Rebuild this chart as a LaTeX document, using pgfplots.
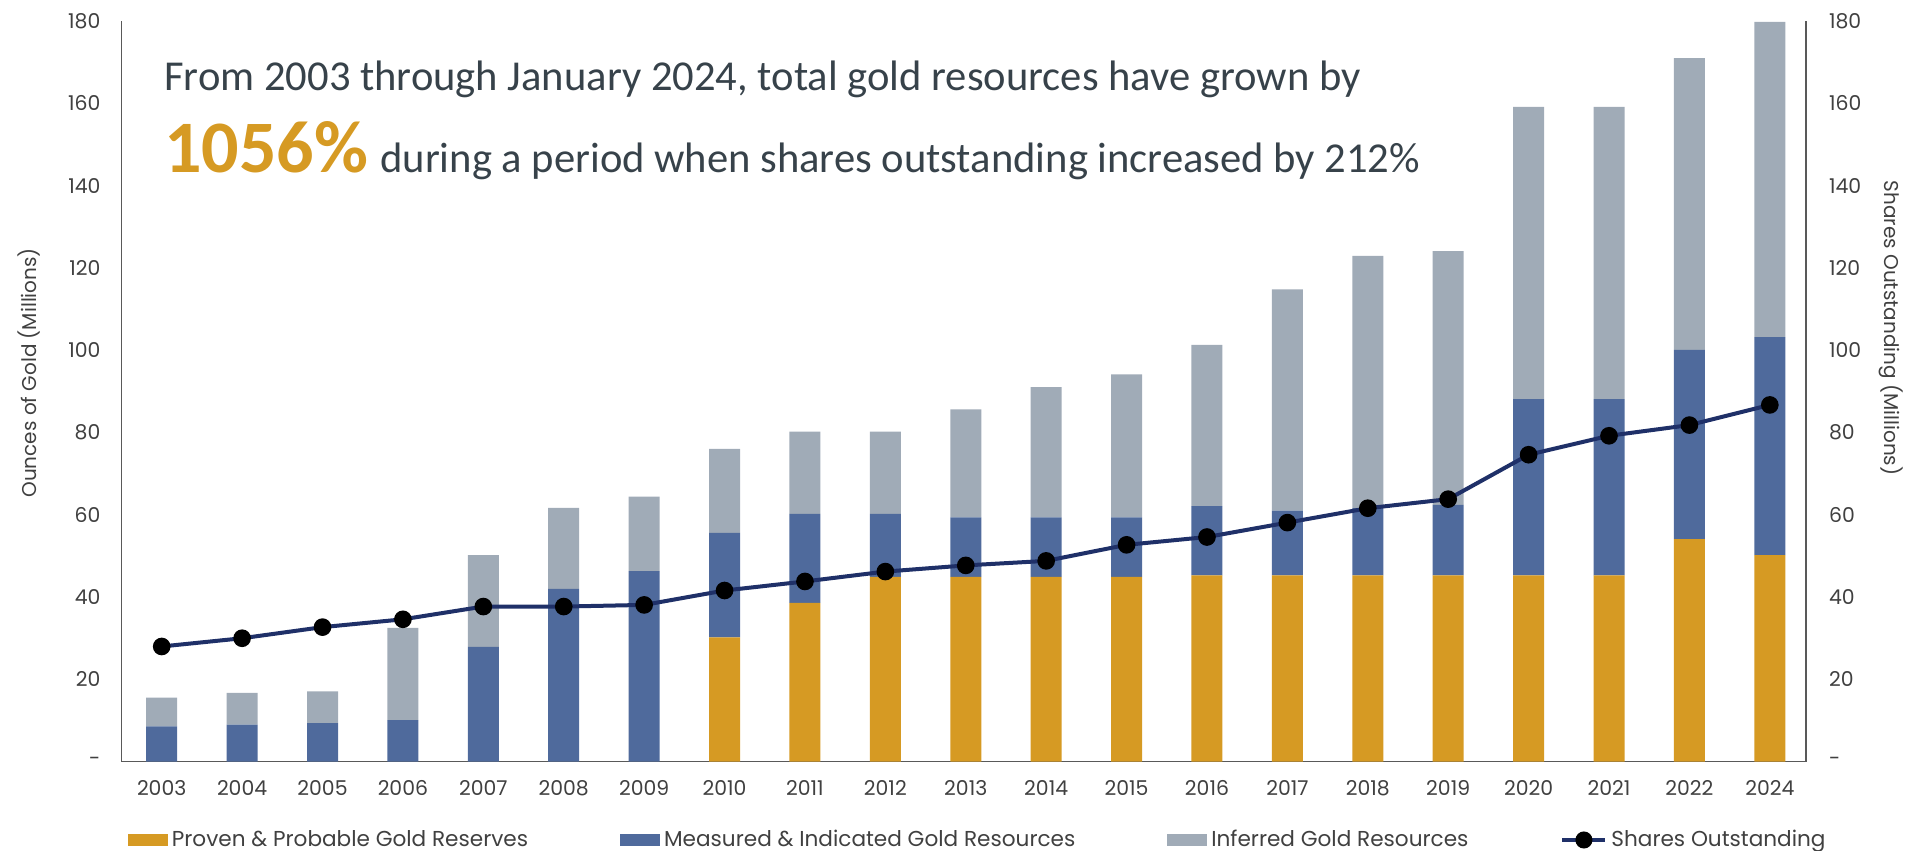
\documentclass[border=0pt]{standalone}
\usepackage{fontspec}
\setmainfont{Poppins}
\newfontfamily\carlito{Carlito}
\usepackage{pgfplots}
\usepackage{pgfplotstable}
\pgfplotsset{compat=1.18}
\definecolor{goldc}{HTML}{D69A23}
\definecolor{bluec}{HTML}{4F6A9C}
\definecolor{grayc}{HTML}{A0ABB7}
\definecolor{navyc}{HTML}{1F3068}
\definecolor{txtc}{HTML}{404040}
\definecolor{annc}{HTML}{37424A}
\definecolor{axc}{HTML}{595959}

\pgfplotstableread{
x gold mi inf shares
0 0 8.6 7.0 28.0
1 0 9.0 7.7 30.0
2 0 9.4 7.7 32.7
3 0 10.1 22.4 34.6
4 0 27.9 22.3 37.7
5 0 42.0 19.7 37.7
6 0 46.3 18.1 38.1
7 30.2 25.4 20.4 41.6
8 38.6 21.6 20.0 43.8
9 44.9 15.3 20.0 46.2
10 44.9 14.5 26.2 47.7
11 44.9 14.5 31.6 48.8
12 44.9 14.5 34.7 52.7
13 45.3 16.8 39.2 54.6
14 45.3 15.7 53.8 58.1
15 45.3 16.3 61.3 61.6
16 45.3 17.1 61.7 63.8
17 45.3 42.8 71.0 74.6
18 45.3 42.8 71.0 79.2
19 54.1 46.0 70.9 81.8
20 50.2 53.0 76.6 86.7
}\datatable

\pgfplotsset{
  common/.style={
    at={(0,0)}, anchor=south west, scale only axis,
    width=842.25pt, height=370.35pt,
    xmin=-0.5, xmax=20.45, ymin=0, ymax=180,
    major tick length=0pt,
    axis line style={color=axc, line width=0.6pt},
    tick label style={font=\fontsize{10.2}{12}\selectfont, color=txtc},
    label style={font=\fontsize{10}{12}\selectfont, color=txtc},
    ytick={0,20,40,60,80,100,120,140,160,180},
    yticklabels={-,20,40,60,80,100,120,140,160,180},
    /pgf/number format/assume math mode=true,
  },
  barleg/.style={legend image code/.code={\fill[##1] (0pt,-3pt) rectangle (20pt,3pt);}},
  lineleg/.style={legend image code/.code={\draw[##1, sharp plot] (0pt,0pt) -- (21.5pt,0pt); \path[##1, sharp plot] plot[mark=*] coordinates {(10.75pt,0pt)};}},
}

\begin{document}
\begin{tikzpicture}
\useasboundingbox (-60.75pt,-44.65pt) rectangle (893.25pt,380.85pt);
\begin{axis}[common,
  ybar stacked, bar width=15.5pt,
  axis x line*=bottom, axis y line*=left,
  xtick={0,...,20},
  xticklabels={2003,2004,2005,2006,2007,2008,2009,2010,2011,2012,2013,2014,2015,2016,2017,2018,2019,2020,2021,2022,2024},
  xticklabel style={anchor=center, yshift=-13.15pt},
  yticklabel style={anchor=east, xshift=-7pt},
  ylabel={Ounces of Gold (Millions)},
  ylabel style={at={(axis description cs:-0.0549,0.525)}, anchor=center},
  legend style={at={(axis description cs:0,-0.1057)}, anchor=west, draw=none, fill=none,
    legend columns=4, font=\fontsize{10.8}{12}\selectfont, text=txtc,
    /tikz/every even column/.append style={column sep=44pt},
    nodes={inner sep=2pt}},
  legend cell align=left,
]
\addplot[fill=goldc, draw=none, barleg] table[x=x,y=gold]{\datatable};
\addlegendentry{Proven \& Probable Gold Reserves}
\addplot[fill=bluec, draw=none, barleg] table[x=x,y=mi]{\datatable};
\addlegendentry{Measured \& Indicated Gold Resources}
\addplot[fill=grayc, draw=none, barleg] table[x=x,y=inf]{\datatable};
\addlegendentry{Inferred Gold Resources}
\addlegendimage{navyc, line width=2pt, mark=*, mark size=3.25pt, mark options={fill=black, draw=black}, lineleg}
\addlegendentry{Shares Outstanding}
\end{axis}
\begin{axis}[common,
  axis x line=none, axis y line*=right,
  xtick=\empty,
  yticklabel style={anchor=west, xshift=8pt},
  ylabel={Shares Outstanding (Millions)},
  ylabel style={at={(axis description cs:1.0505,0.5855)}, anchor=center, rotate=180},
]
\addplot[navyc, line width=2pt, mark=*, mark size=3.4pt, mark options={fill=black, draw=black}] table[x=x,y=shares]{\datatable};
\end{axis}
\node[anchor=base west, inner sep=0, text=annc, font=\carlito\fontsize{21.3}{24}\selectfont] at (21.25pt,335.5pt)
  {From 2003 through January 2024, total gold resources have grown by};
\node[anchor=base west, inner sep=0, text=annc, font=\carlito\fontsize{21.3}{24}\selectfont] at (21.25pt,294.5pt)
  {{\bfseries\fontsize{37}{40}\selectfont\color{goldc}1056\%}\hspace{6pt}during a period when shares outstanding increased by 212\%};
\end{tikzpicture}
\end{document}
